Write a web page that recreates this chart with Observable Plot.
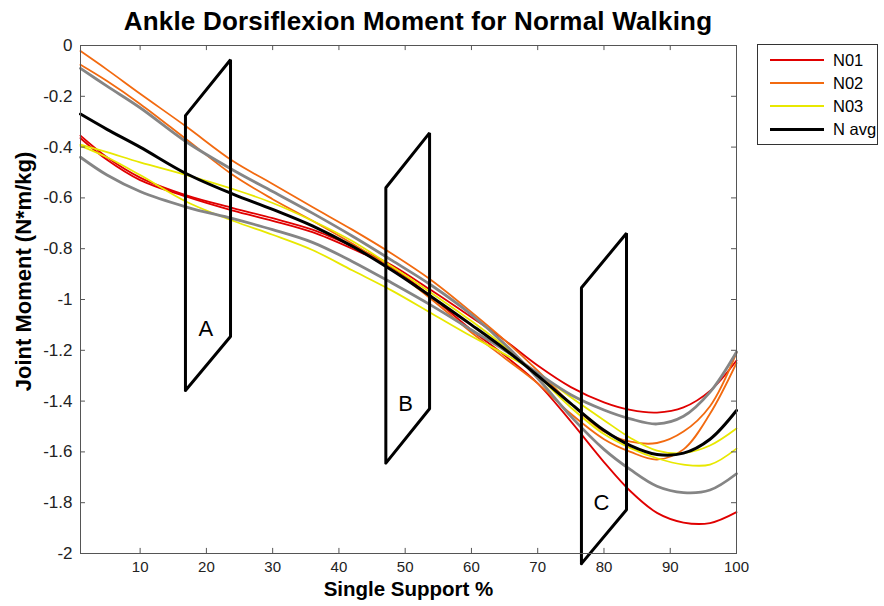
<!DOCTYPE html>
<html><head><meta charset="utf-8">
<script src="https://cdn.jsdelivr.net/npm/d3@7"></script>
<script src="https://cdn.jsdelivr.net/npm/@observablehq/plot@0.6"></script>
<style>
body{margin:0;background:#fff;font-family:"Liberation Sans",Arial,sans-serif;}
#wrap{position:relative;width:884px;height:606px;overflow:hidden;}
#title{height:35px;width:836px;text-align:center;font-weight:bold;font-size:26px;line-height:42px;letter-spacing:0.2px;color:#000;}
#legend{position:absolute;left:757px;top:44px;width:121px;height:101px;border:1px solid #333;background:#fff;box-sizing:border-box;}
.row{position:absolute;left:0;height:20px;width:120px;}
.sw{position:absolute;left:12px;width:54px;top:9px;}
.lab{position:absolute;left:75px;top:0;font-size:16.5px;line-height:20px;color:#000;}
</style></head><body>
<div id="wrap">
<div id="title">Ankle Dorsiflexion Moment for Normal Walking</div>
<div id="chart"></div>
<div id="legend"></div>
</div>
<script>
// ---- data ----
const xs    = [1, 5, 10, 17, 24, 30, 36, 42, 48, 54, 60, 65, 70, 75, 80, 84, 88, 92, 96, 100];
const n01a  = [-0.355,-0.44,-0.52,-0.59,-0.64,-0.68,-0.725,-0.79,-0.865,-0.965,-1.07,-1.16,-1.26,-1.345,-1.405,-1.435,-1.445,-1.425,-1.36,-1.24];
const n01b  = [-0.365,-0.45,-0.53,-0.595,-0.65,-0.69,-0.735,-0.8,-0.875,-0.99,-1.12,-1.22,-1.33,-1.48,-1.64,-1.755,-1.84,-1.878,-1.88,-1.837];
const n02a  = [-0.022,-0.095,-0.19,-0.32,-0.455,-0.545,-0.636,-0.725,-0.82,-0.925,-1.05,-1.16,-1.28,-1.41,-1.52,-1.56,-1.565,-1.52,-1.42,-1.21];
const n02b  = [-0.076,-0.14,-0.23,-0.37,-0.51,-0.605,-0.69,-0.78,-0.88,-1.0,-1.13,-1.23,-1.33,-1.45,-1.55,-1.6,-1.63,-1.59,-1.45,-1.25];
const n03a  = [-0.39,-0.42,-0.46,-0.51,-0.565,-0.62,-0.69,-0.77,-0.87,-0.975,-1.085,-1.185,-1.3,-1.425,-1.53,-1.585,-1.625,-1.65,-1.65,-1.587];
const n03b  = [-0.395,-0.44,-0.51,-0.615,-0.69,-0.745,-0.805,-0.885,-0.965,-1.055,-1.145,-1.215,-1.29,-1.385,-1.475,-1.545,-1.595,-1.605,-1.575,-1.508];
const navg  = [-0.27,-0.33,-0.4,-0.505,-0.585,-0.645,-0.71,-0.79,-0.885,-0.99,-1.1,-1.195,-1.3,-1.41,-1.515,-1.575,-1.61,-1.605,-1.55,-1.437];
const sdHi  = [-0.09,-0.16,-0.245,-0.38,-0.49,-0.575,-0.66,-0.75,-0.846,-0.945,-1.06,-1.175,-1.31,-1.46,-1.59,-1.67,-1.735,-1.76,-1.75,-1.686];
const sdLo  = [-0.44,-0.51,-0.575,-0.636,-0.682,-0.725,-0.775,-0.85,-0.935,-1.024,-1.12,-1.2,-1.29,-1.375,-1.435,-1.47,-1.49,-1.46,-1.365,-1.207];

// parallelogram annotations (corner values) and their letters
const boxNames = ["A","B","C"];
const boxX = [[16.84,16.84,23.64,23.64,16.84],[47.08,47.08,53.68,53.68,47.08],[76.6,76.6,83.4,83.4,76.6]];
const boxY = [[-1.358,-0.276,-0.056,-1.146,-1.358],[-1.644,-0.56,-0.344,-1.43,-1.644],[-2.04,-0.954,-0.739,-1.828,-2.04]];
const letterX = [19.9, 50.05, 79.6];
const letterY = [-1.114, -1.41, -1.80];

const xTicks = [10,20,30,40,50,60,70,80,90,100];
const yTicks = [0,-0.2,-0.4,-0.6,-0.8,-1,-1.2,-1.4,-1.6,-1.8,-2];

const legendNames = ["N01","N02","N03","N avg"];
const legendColors = ["#e00000","#f26a10","#e8e800","#000000"];

// ---- build tables ----
const toRows = (ys, id) => xs.map((x,i) => ({x, y: ys[i], id}));
const red = [...toRows(n01a,"a"), ...toRows(n01b,"b")];
const orange = [...toRows(n02a,"a"), ...toRows(n02b,"b")];
const yellow = [...toRows(n03a,"a"), ...toRows(n03b,"b")];
const gray = [...toRows(sdHi,"h"), ...toRows(sdLo,"l")];
const avg = toRows(navg,"m");
const boxes = boxNames.flatMap((n,k) => boxX[k].map((x,i) => ({x, y: boxY[k][i], id: n})));
const letters = boxNames.map((n,k) => ({t:n, x: letterX[k], y: letterY[k]}));

const font = "'Liberation Sans', Arial, sans-serif";
const curve = "catmull-rom";
const tickLen = 0.02, tickLenX = 0.75;

const chart = Plot.plot({
  width: 884, height: 571,
  marginTop: 10, marginBottom: 53, marginLeft: 80, marginRight: 148,
  style: {fontFamily: font, background: "#fff", overflow: "visible"},
  x: {domain: [1,100]},
  y: {domain: [-2,0]},
  marks: [
    Plot.line(red, {x:"x", y:"y", z:"id", stroke: legendColors[0], strokeWidth: 1.8, curve}),
    Plot.line(orange, {x:"x", y:"y", z:"id", stroke: legendColors[1], strokeWidth: 1.8, curve}),
    Plot.line(yellow, {x:"x", y:"y", z:"id", stroke: legendColors[2], strokeWidth: 1.8, curve}),
    Plot.line(gray, {x:"x", y:"y", z:"id", stroke: "#858585", strokeWidth: 2.8, curve}),
    Plot.line(avg, {x:"x", y:"y", z:"id", stroke: legendColors[3], strokeWidth: 3, curve}),
    Plot.line(boxes, {x:"x", y:"y", z:"id", stroke: "#000", strokeWidth: 3, strokeLinejoin: "miter"}),
    Plot.text(letters, {x:"x", y:"y", text:"t", fontSize: 22, fill: "#000"}),
    Plot.frame({stroke: "#555"}),
    Plot.ruleX(xTicks, {x: d=>d, y1: -2, y2: -2+tickLen, stroke: "#555"}),
    Plot.ruleX(xTicks, {x: d=>d, y1: 0, y2: -tickLen, stroke: "#555"}),
    Plot.ruleY(yTicks, {y: d=>d, x1: 1, x2: 1+tickLenX, stroke: "#555"}),
    Plot.ruleY(yTicks, {y: d=>d, x1: 100, x2: 100-tickLenX, stroke: "#555"}),
    Plot.axisX({ticks: xTicks, tickSize: 0, tickPadding: 8, tickFormat: d=>String(d), fontSize: 15, label: null, fill: "#222"}),
    Plot.axisY({ticks: yTicks, tickSize: 0, tickPadding: 8, tickFormat: d=>String(d), fontSize: 17, label: null, fill: "#222"}),
    Plot.text(["Single Support %"], {text: d=>d, frameAnchor: "bottom", textAnchor: "middle", dy: 42, fontSize: 20.5, fontWeight: "bold", fill: "#000"}),
    Plot.text(["Joint Moment (N*m/kg)"], {text: d=>d, frameAnchor: "left", textAnchor: "middle", rotate: -90, dx: -57, dy: -28, fontSize: 22, fontWeight: "bold", fill: "#000"})
  ]
});
document.getElementById("chart").appendChild(chart);

const leg = document.getElementById("legend");
legendNames.forEach((n,i) => {
  const r = document.createElement("div");
  r.className = "row"; r.style.top = (5 + i*23) + "px";
  const s = document.createElement("div");
  s.className = "sw"; s.style.borderTop = (i===3?3:2) + "px solid " + legendColors[i];
  const t = document.createElement("div");
  t.className = "lab"; t.textContent = n;
  r.appendChild(s); r.appendChild(t); leg.appendChild(r);
});
</script>
</body></html>
